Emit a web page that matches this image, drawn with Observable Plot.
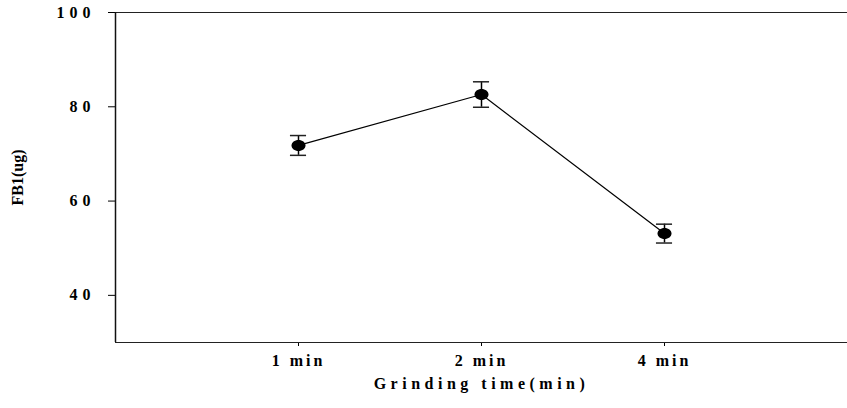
<!DOCTYPE html>
<html>
<head>
<meta charset="utf-8">
<script src="https://cdn.jsdelivr.net/npm/d3@7"></script>
<script src="https://cdn.jsdelivr.net/npm/@observablehq/plot@0.6"></script>
<style>
  html, body { margin: 0; padding: 0; background: #fff; }
  g[aria-label="y-axis tick label"] text { letter-spacing: 5px; }
  g[aria-label="x-axis tick label"] text { letter-spacing: 3px; }
  g[aria-label="x-axis label"] text { letter-spacing: 4.5px; }
</style>
</head>
<body>
<div id="chart"></div>
<script>
// Data
const categories = ["1 min", "2 min", "4 min"];
const positions = [1, 2, 3];
const means = [71.8, 82.6, 53.1];
const errors = [2.1, 2.7, 2.0];
const yTicks = [40, 60, 80, 100];

const data = categories.map((c, i) => ({
  label: c, x: positions[i], mean: means[i], err: errors[i]
}));

const capHalf = 0.044;
const ellipse = {
  draw(ctx) {
    const rx = 7, ry = 5.5, k = 0.5523;
    ctx.moveTo(rx, 0);
    ctx.bezierCurveTo(rx, ry * k, rx * k, ry, 0, ry);
    ctx.bezierCurveTo(-rx * k, ry, -rx, ry * k, -rx, 0);
    ctx.bezierCurveTo(-rx, -ry * k, -rx * k, -ry, 0, -ry);
    ctx.bezierCurveTo(rx * k, -ry, rx, -ry * k, rx, 0);
    ctx.closePath();
  }
};

const font = "'Liberation Serif', 'DejaVu Serif', serif";

const chart = Plot.plot({
  width: 847,
  height: 408,
  marginLeft: 115,
  marginRight: 0,
  marginTop: 12,
  marginBottom: 66,
  style: { fontFamily: font, background: "#fff", color: "#000" },
  x: { domain: [0, 4] },
  y: { domain: [30, 100] },
  marks: [
    Plot.axisY({
      ticks: yTicks, tickSize: 7, tickPadding: 13,
      fontSize: 16, fontWeight: "bold",
      label: "FB1(ug)", labelAnchor: "center", labelOffset: 104, labelArrow: "none"
    }),
    Plot.axisX({
      ticks: positions, tickSize: 4, tickPadding: 8,
      tickFormat: (d) => categories[positions.indexOf(d)],
      fontSize: 16, fontWeight: "bold",
      label: "Grinding time(min)", labelAnchor: "center", labelOffset: 46, labelArrow: "none"
    }),
    Plot.ruleY([30, 100], { stroke: "#222", strokeWidth: 1 }),
    Plot.ruleX([0], { stroke: "#111", strokeWidth: 1.5 }),
    Plot.line(data, { x: "x", y: "mean", stroke: "#000", strokeWidth: 1.2 }),
    Plot.ruleX(data, { x: "x", y1: d => d.mean - d.err, y2: d => d.mean + d.err, stroke: "#000", strokeWidth: 1.5 }),
    Plot.ruleY(data, { y: d => d.mean + d.err, x1: d => d.x - capHalf, x2: d => d.x + capHalf, stroke: "#222", strokeWidth: 1.5 }),
    Plot.ruleY(data, { y: d => d.mean - d.err, x1: d => d.x - capHalf, x2: d => d.x + capHalf, stroke: "#222", strokeWidth: 1.5 }),
    Plot.dot(data, { x: "x", y: "mean", symbol: ellipse, fill: "#000", stroke: "none", r: 6 })
  ]
});
document.getElementById("chart").appendChild(chart);
</script>
</body>
</html>
